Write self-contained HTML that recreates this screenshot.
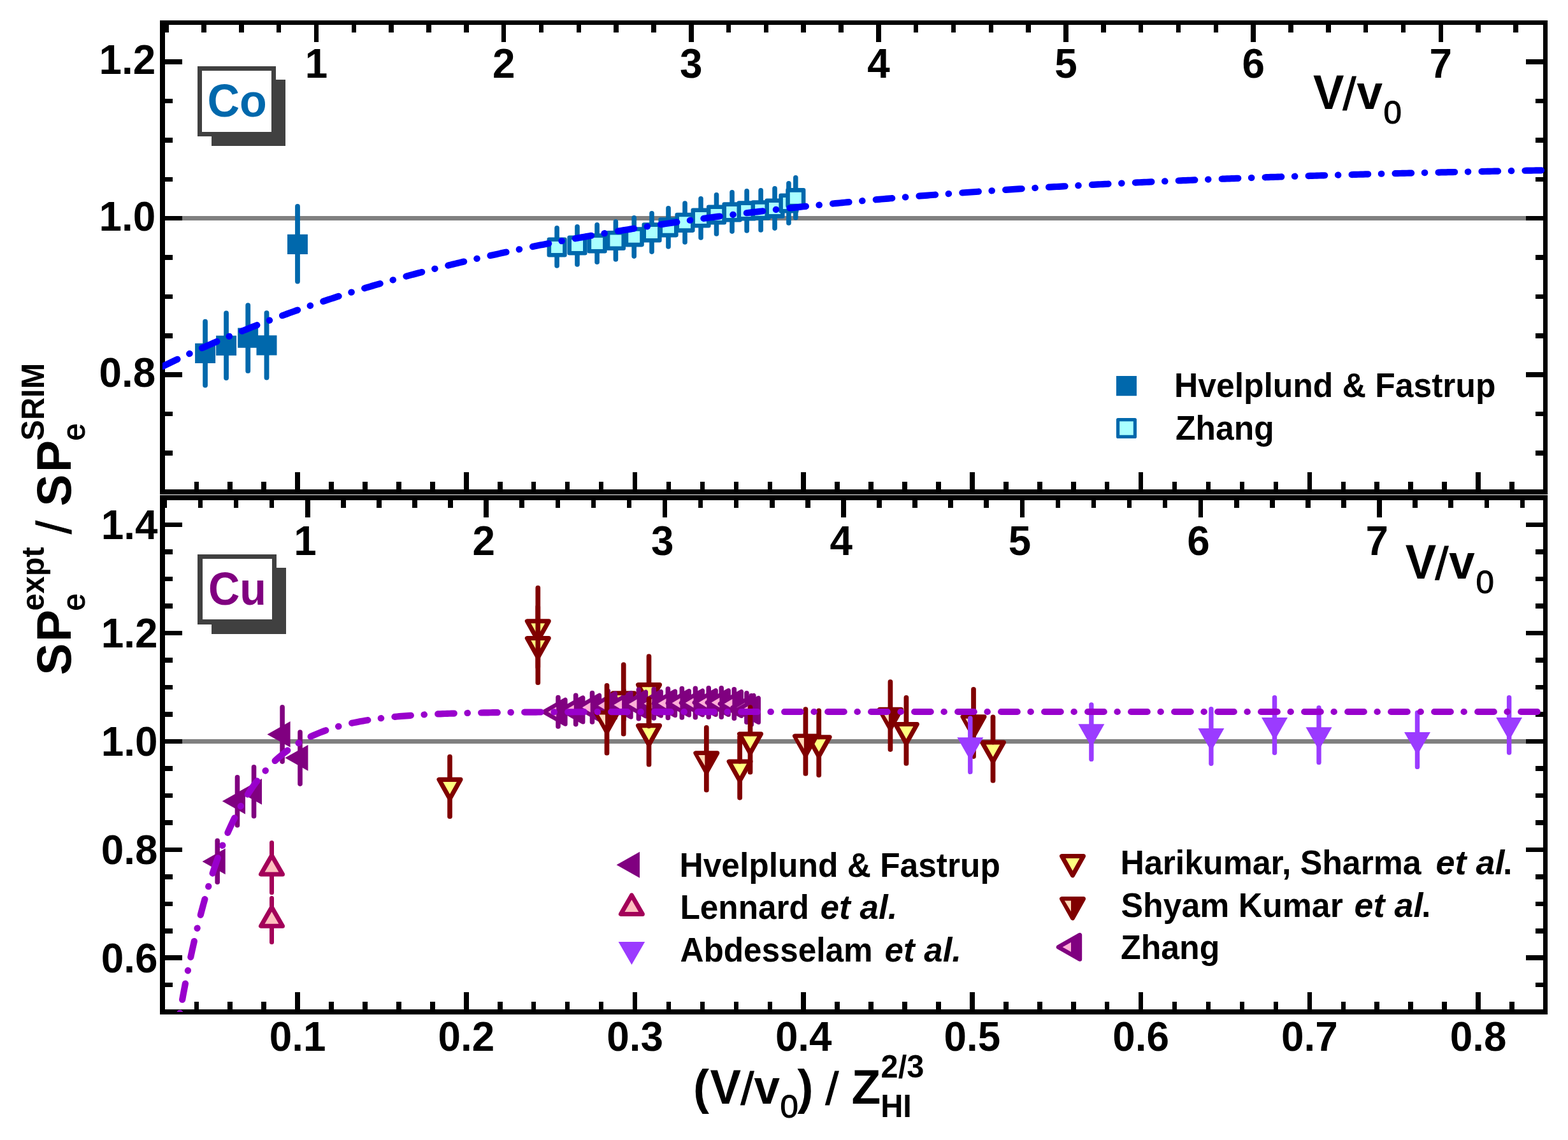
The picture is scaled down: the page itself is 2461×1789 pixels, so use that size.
<!DOCTYPE html>
<html lang="en"><head><meta charset="utf-8"><title>Stopping power ratio: Co and Cu</title>
<style>html,body{margin:0;padding:0;background:#fff;}svg{display:block;}</style></head>
<body>
<svg xmlns="http://www.w3.org/2000/svg" width="2461" height="1789" viewBox="0 0 2461 1789" font-family='"Liberation Sans", Arial, Helvetica, sans-serif'>
<defs>
<clipPath id="cpt"><rect x="255" y="35.5" width="2170" height="736.5"/></clipPath>
<clipPath id="cpb"><rect x="255" y="781" width="2170" height="807"/></clipPath>
</defs>
<rect x="0" y="0" width="2461" height="1789" fill="#ffffff"/>
<g shape-rendering="crispEdges">
<rect x="251.00" y="32.00" width="2178.00" height="6.80" fill="#000" />
<rect x="251.00" y="768.00" width="2178.00" height="8.00" fill="#000" />
<rect x="251.00" y="32.00" width="8.00" height="744.00" fill="#000" />
<rect x="2422.00" y="32.00" width="7.00" height="744.00" fill="#000" />
<rect x="251.00" y="777.00" width="2178.00" height="8.00" fill="#000" />
<rect x="251.00" y="1584.00" width="2178.00" height="7.50" fill="#000" />
<rect x="251.00" y="777.00" width="8.00" height="814.50" fill="#000" />
<rect x="2422.00" y="777.00" width="7.00" height="814.50" fill="#000" />
</g>
<g shape-rendering="crispEdges">
<rect x="259.00" y="339.40" width="2163.00" height="6.50" fill="#808080" />
<rect x="259.00" y="1160.30" width="2163.00" height="6.50" fill="#808080" />
</g>
<g shape-rendering="crispEdges">
<rect x="257.46" y="37.80" width="7.50" height="13.20" fill="#000" />
<rect x="316.29" y="37.80" width="7.50" height="13.20" fill="#000" />
<rect x="375.11" y="37.80" width="7.50" height="13.20" fill="#000" />
<rect x="433.94" y="37.80" width="7.50" height="13.20" fill="#000" />
<rect x="492.76" y="37.80" width="7.50" height="27.70" fill="#000" />
<rect x="551.59" y="37.80" width="7.50" height="13.20" fill="#000" />
<rect x="610.41" y="37.80" width="7.50" height="13.20" fill="#000" />
<rect x="669.24" y="37.80" width="7.50" height="13.20" fill="#000" />
<rect x="728.06" y="37.80" width="7.50" height="13.20" fill="#000" />
<rect x="786.88" y="37.80" width="7.50" height="27.70" fill="#000" />
<rect x="845.71" y="37.80" width="7.50" height="13.20" fill="#000" />
<rect x="904.53" y="37.80" width="7.50" height="13.20" fill="#000" />
<rect x="963.36" y="37.80" width="7.50" height="13.20" fill="#000" />
<rect x="1022.18" y="37.80" width="7.50" height="13.20" fill="#000" />
<rect x="1081.01" y="37.80" width="7.50" height="27.70" fill="#000" />
<rect x="1139.83" y="37.80" width="7.50" height="13.20" fill="#000" />
<rect x="1198.66" y="37.80" width="7.50" height="13.20" fill="#000" />
<rect x="1257.48" y="37.80" width="7.50" height="13.20" fill="#000" />
<rect x="1316.30" y="37.80" width="7.50" height="13.20" fill="#000" />
<rect x="1375.13" y="37.80" width="7.50" height="27.70" fill="#000" />
<rect x="1433.95" y="37.80" width="7.50" height="13.20" fill="#000" />
<rect x="1492.78" y="37.80" width="7.50" height="13.20" fill="#000" />
<rect x="1551.60" y="37.80" width="7.50" height="13.20" fill="#000" />
<rect x="1610.43" y="37.80" width="7.50" height="13.20" fill="#000" />
<rect x="1669.25" y="37.80" width="7.50" height="27.70" fill="#000" />
<rect x="1728.08" y="37.80" width="7.50" height="13.20" fill="#000" />
<rect x="1786.90" y="37.80" width="7.50" height="13.20" fill="#000" />
<rect x="1845.72" y="37.80" width="7.50" height="13.20" fill="#000" />
<rect x="1904.55" y="37.80" width="7.50" height="13.20" fill="#000" />
<rect x="1963.37" y="37.80" width="7.50" height="27.70" fill="#000" />
<rect x="2022.20" y="37.80" width="7.50" height="13.20" fill="#000" />
<rect x="2081.02" y="37.80" width="7.50" height="13.20" fill="#000" />
<rect x="2139.85" y="37.80" width="7.50" height="13.20" fill="#000" />
<rect x="2198.67" y="37.80" width="7.50" height="13.20" fill="#000" />
<rect x="2257.50" y="37.80" width="7.50" height="27.70" fill="#000" />
<rect x="2316.32" y="37.80" width="7.50" height="13.20" fill="#000" />
<rect x="2375.14" y="37.80" width="7.50" height="13.20" fill="#000" />
<rect x="304.52" y="755.80" width="7.50" height="13.20" fill="#000" />
<rect x="304.52" y="1571.80" width="7.50" height="13.20" fill="#000" />
<rect x="357.47" y="755.80" width="7.50" height="13.20" fill="#000" />
<rect x="357.47" y="1571.80" width="7.50" height="13.20" fill="#000" />
<rect x="410.41" y="755.80" width="7.50" height="13.20" fill="#000" />
<rect x="410.41" y="1571.80" width="7.50" height="13.20" fill="#000" />
<rect x="463.35" y="741.00" width="7.50" height="28.00" fill="#000" />
<rect x="463.35" y="1557.00" width="7.50" height="28.00" fill="#000" />
<rect x="516.29" y="755.80" width="7.50" height="13.20" fill="#000" />
<rect x="516.29" y="1571.80" width="7.50" height="13.20" fill="#000" />
<rect x="569.23" y="755.80" width="7.50" height="13.20" fill="#000" />
<rect x="569.23" y="1571.80" width="7.50" height="13.20" fill="#000" />
<rect x="622.18" y="755.80" width="7.50" height="13.20" fill="#000" />
<rect x="622.18" y="1571.80" width="7.50" height="13.20" fill="#000" />
<rect x="675.12" y="755.80" width="7.50" height="13.20" fill="#000" />
<rect x="675.12" y="1571.80" width="7.50" height="13.20" fill="#000" />
<rect x="728.06" y="741.00" width="7.50" height="28.00" fill="#000" />
<rect x="728.06" y="1557.00" width="7.50" height="28.00" fill="#000" />
<rect x="781.00" y="755.80" width="7.50" height="13.20" fill="#000" />
<rect x="781.00" y="1571.80" width="7.50" height="13.20" fill="#000" />
<rect x="833.94" y="755.80" width="7.50" height="13.20" fill="#000" />
<rect x="833.94" y="1571.80" width="7.50" height="13.20" fill="#000" />
<rect x="886.89" y="755.80" width="7.50" height="13.20" fill="#000" />
<rect x="886.89" y="1571.80" width="7.50" height="13.20" fill="#000" />
<rect x="939.83" y="755.80" width="7.50" height="13.20" fill="#000" />
<rect x="939.83" y="1571.80" width="7.50" height="13.20" fill="#000" />
<rect x="992.77" y="741.00" width="7.50" height="28.00" fill="#000" />
<rect x="992.77" y="1557.00" width="7.50" height="28.00" fill="#000" />
<rect x="1045.71" y="755.80" width="7.50" height="13.20" fill="#000" />
<rect x="1045.71" y="1571.80" width="7.50" height="13.20" fill="#000" />
<rect x="1098.65" y="755.80" width="7.50" height="13.20" fill="#000" />
<rect x="1098.65" y="1571.80" width="7.50" height="13.20" fill="#000" />
<rect x="1151.60" y="755.80" width="7.50" height="13.20" fill="#000" />
<rect x="1151.60" y="1571.80" width="7.50" height="13.20" fill="#000" />
<rect x="1204.54" y="755.80" width="7.50" height="13.20" fill="#000" />
<rect x="1204.54" y="1571.80" width="7.50" height="13.20" fill="#000" />
<rect x="1257.48" y="741.00" width="7.50" height="28.00" fill="#000" />
<rect x="1257.48" y="1557.00" width="7.50" height="28.00" fill="#000" />
<rect x="1310.42" y="755.80" width="7.50" height="13.20" fill="#000" />
<rect x="1310.42" y="1571.80" width="7.50" height="13.20" fill="#000" />
<rect x="1363.36" y="755.80" width="7.50" height="13.20" fill="#000" />
<rect x="1363.36" y="1571.80" width="7.50" height="13.20" fill="#000" />
<rect x="1416.31" y="755.80" width="7.50" height="13.20" fill="#000" />
<rect x="1416.31" y="1571.80" width="7.50" height="13.20" fill="#000" />
<rect x="1469.25" y="755.80" width="7.50" height="13.20" fill="#000" />
<rect x="1469.25" y="1571.80" width="7.50" height="13.20" fill="#000" />
<rect x="1522.19" y="741.00" width="7.50" height="28.00" fill="#000" />
<rect x="1522.19" y="1557.00" width="7.50" height="28.00" fill="#000" />
<rect x="1575.13" y="755.80" width="7.50" height="13.20" fill="#000" />
<rect x="1575.13" y="1571.80" width="7.50" height="13.20" fill="#000" />
<rect x="1628.07" y="755.80" width="7.50" height="13.20" fill="#000" />
<rect x="1628.07" y="1571.80" width="7.50" height="13.20" fill="#000" />
<rect x="1681.02" y="755.80" width="7.50" height="13.20" fill="#000" />
<rect x="1681.02" y="1571.80" width="7.50" height="13.20" fill="#000" />
<rect x="1733.96" y="755.80" width="7.50" height="13.20" fill="#000" />
<rect x="1733.96" y="1571.80" width="7.50" height="13.20" fill="#000" />
<rect x="1786.90" y="741.00" width="7.50" height="28.00" fill="#000" />
<rect x="1786.90" y="1557.00" width="7.50" height="28.00" fill="#000" />
<rect x="1839.84" y="755.80" width="7.50" height="13.20" fill="#000" />
<rect x="1839.84" y="1571.80" width="7.50" height="13.20" fill="#000" />
<rect x="1892.78" y="755.80" width="7.50" height="13.20" fill="#000" />
<rect x="1892.78" y="1571.80" width="7.50" height="13.20" fill="#000" />
<rect x="1945.73" y="755.80" width="7.50" height="13.20" fill="#000" />
<rect x="1945.73" y="1571.80" width="7.50" height="13.20" fill="#000" />
<rect x="1998.67" y="755.80" width="7.50" height="13.20" fill="#000" />
<rect x="1998.67" y="1571.80" width="7.50" height="13.20" fill="#000" />
<rect x="2051.61" y="741.00" width="7.50" height="28.00" fill="#000" />
<rect x="2051.61" y="1557.00" width="7.50" height="28.00" fill="#000" />
<rect x="2104.55" y="755.80" width="7.50" height="13.20" fill="#000" />
<rect x="2104.55" y="1571.80" width="7.50" height="13.20" fill="#000" />
<rect x="2157.49" y="755.80" width="7.50" height="13.20" fill="#000" />
<rect x="2157.49" y="1571.80" width="7.50" height="13.20" fill="#000" />
<rect x="2210.44" y="755.80" width="7.50" height="13.20" fill="#000" />
<rect x="2210.44" y="1571.80" width="7.50" height="13.20" fill="#000" />
<rect x="2263.38" y="755.80" width="7.50" height="13.20" fill="#000" />
<rect x="2263.38" y="1571.80" width="7.50" height="13.20" fill="#000" />
<rect x="2316.32" y="741.00" width="7.50" height="28.00" fill="#000" />
<rect x="2316.32" y="1557.00" width="7.50" height="28.00" fill="#000" />
<rect x="2369.26" y="755.80" width="7.50" height="13.20" fill="#000" />
<rect x="2369.26" y="1571.80" width="7.50" height="13.20" fill="#000" />
<rect x="254.72" y="784.00" width="7.50" height="13.20" fill="#000" />
<rect x="310.79" y="784.00" width="7.50" height="13.20" fill="#000" />
<rect x="366.87" y="784.00" width="7.50" height="13.20" fill="#000" />
<rect x="422.95" y="784.00" width="7.50" height="13.20" fill="#000" />
<rect x="479.02" y="784.00" width="7.50" height="28.00" fill="#000" />
<rect x="535.10" y="784.00" width="7.50" height="13.20" fill="#000" />
<rect x="591.18" y="784.00" width="7.50" height="13.20" fill="#000" />
<rect x="647.25" y="784.00" width="7.50" height="13.20" fill="#000" />
<rect x="703.33" y="784.00" width="7.50" height="13.20" fill="#000" />
<rect x="759.41" y="784.00" width="7.50" height="28.00" fill="#000" />
<rect x="815.48" y="784.00" width="7.50" height="13.20" fill="#000" />
<rect x="871.56" y="784.00" width="7.50" height="13.20" fill="#000" />
<rect x="927.64" y="784.00" width="7.50" height="13.20" fill="#000" />
<rect x="983.71" y="784.00" width="7.50" height="13.20" fill="#000" />
<rect x="1039.79" y="784.00" width="7.50" height="28.00" fill="#000" />
<rect x="1095.87" y="784.00" width="7.50" height="13.20" fill="#000" />
<rect x="1151.94" y="784.00" width="7.50" height="13.20" fill="#000" />
<rect x="1208.02" y="784.00" width="7.50" height="13.20" fill="#000" />
<rect x="1264.10" y="784.00" width="7.50" height="13.20" fill="#000" />
<rect x="1320.17" y="784.00" width="7.50" height="28.00" fill="#000" />
<rect x="1376.25" y="784.00" width="7.50" height="13.20" fill="#000" />
<rect x="1432.33" y="784.00" width="7.50" height="13.20" fill="#000" />
<rect x="1488.40" y="784.00" width="7.50" height="13.20" fill="#000" />
<rect x="1544.48" y="784.00" width="7.50" height="13.20" fill="#000" />
<rect x="1600.56" y="784.00" width="7.50" height="28.00" fill="#000" />
<rect x="1656.63" y="784.00" width="7.50" height="13.20" fill="#000" />
<rect x="1712.71" y="784.00" width="7.50" height="13.20" fill="#000" />
<rect x="1768.79" y="784.00" width="7.50" height="13.20" fill="#000" />
<rect x="1824.86" y="784.00" width="7.50" height="13.20" fill="#000" />
<rect x="1880.94" y="784.00" width="7.50" height="28.00" fill="#000" />
<rect x="1937.02" y="784.00" width="7.50" height="13.20" fill="#000" />
<rect x="1993.09" y="784.00" width="7.50" height="13.20" fill="#000" />
<rect x="2049.17" y="784.00" width="7.50" height="13.20" fill="#000" />
<rect x="2105.25" y="784.00" width="7.50" height="13.20" fill="#000" />
<rect x="2161.32" y="784.00" width="7.50" height="28.00" fill="#000" />
<rect x="2217.40" y="784.00" width="7.50" height="13.20" fill="#000" />
<rect x="2273.48" y="784.00" width="7.50" height="13.20" fill="#000" />
<rect x="2329.55" y="784.00" width="7.50" height="13.20" fill="#000" />
<rect x="2385.63" y="784.00" width="7.50" height="13.20" fill="#000" />
<rect x="258.00" y="707.20" width="13.20" height="7.50" fill="#000" />
<rect x="2409.80" y="707.20" width="13.20" height="7.50" fill="#000" />
<rect x="258.00" y="645.83" width="13.20" height="7.50" fill="#000" />
<rect x="2409.80" y="645.83" width="13.20" height="7.50" fill="#000" />
<rect x="258.00" y="584.45" width="28.00" height="7.50" fill="#000" />
<rect x="2395.00" y="584.45" width="28.00" height="7.50" fill="#000" />
<rect x="258.00" y="523.07" width="13.20" height="7.50" fill="#000" />
<rect x="2409.80" y="523.07" width="13.20" height="7.50" fill="#000" />
<rect x="258.00" y="461.70" width="13.20" height="7.50" fill="#000" />
<rect x="2409.80" y="461.70" width="13.20" height="7.50" fill="#000" />
<rect x="258.00" y="400.32" width="13.20" height="7.50" fill="#000" />
<rect x="2409.80" y="400.32" width="13.20" height="7.50" fill="#000" />
<rect x="258.00" y="338.95" width="28.00" height="7.50" fill="#000" />
<rect x="2395.00" y="338.95" width="28.00" height="7.50" fill="#000" />
<rect x="258.00" y="277.57" width="13.20" height="7.50" fill="#000" />
<rect x="2409.80" y="277.57" width="13.20" height="7.50" fill="#000" />
<rect x="258.00" y="216.20" width="13.20" height="7.50" fill="#000" />
<rect x="2409.80" y="216.20" width="13.20" height="7.50" fill="#000" />
<rect x="258.00" y="154.82" width="13.20" height="7.50" fill="#000" />
<rect x="2409.80" y="154.82" width="13.20" height="7.50" fill="#000" />
<rect x="258.00" y="93.45" width="28.00" height="7.50" fill="#000" />
<rect x="2395.00" y="93.45" width="28.00" height="7.50" fill="#000" />
<rect x="258.00" y="1541.97" width="13.20" height="7.50" fill="#000" />
<rect x="2409.80" y="1541.97" width="13.20" height="7.50" fill="#000" />
<rect x="258.00" y="1499.49" width="28.00" height="7.50" fill="#000" />
<rect x="2395.00" y="1499.49" width="28.00" height="7.50" fill="#000" />
<rect x="258.00" y="1457.01" width="13.20" height="7.50" fill="#000" />
<rect x="2409.80" y="1457.01" width="13.20" height="7.50" fill="#000" />
<rect x="258.00" y="1414.53" width="13.20" height="7.50" fill="#000" />
<rect x="2409.80" y="1414.53" width="13.20" height="7.50" fill="#000" />
<rect x="258.00" y="1372.05" width="13.20" height="7.50" fill="#000" />
<rect x="2409.80" y="1372.05" width="13.20" height="7.50" fill="#000" />
<rect x="258.00" y="1329.57" width="28.00" height="7.50" fill="#000" />
<rect x="2395.00" y="1329.57" width="28.00" height="7.50" fill="#000" />
<rect x="258.00" y="1287.09" width="13.20" height="7.50" fill="#000" />
<rect x="2409.80" y="1287.09" width="13.20" height="7.50" fill="#000" />
<rect x="258.00" y="1244.61" width="13.20" height="7.50" fill="#000" />
<rect x="2409.80" y="1244.61" width="13.20" height="7.50" fill="#000" />
<rect x="258.00" y="1202.13" width="13.20" height="7.50" fill="#000" />
<rect x="2409.80" y="1202.13" width="13.20" height="7.50" fill="#000" />
<rect x="258.00" y="1159.65" width="28.00" height="7.50" fill="#000" />
<rect x="2395.00" y="1159.65" width="28.00" height="7.50" fill="#000" />
<rect x="258.00" y="1117.17" width="13.20" height="7.50" fill="#000" />
<rect x="2409.80" y="1117.17" width="13.20" height="7.50" fill="#000" />
<rect x="258.00" y="1074.69" width="13.20" height="7.50" fill="#000" />
<rect x="2409.80" y="1074.69" width="13.20" height="7.50" fill="#000" />
<rect x="258.00" y="1032.21" width="13.20" height="7.50" fill="#000" />
<rect x="2409.80" y="1032.21" width="13.20" height="7.50" fill="#000" />
<rect x="258.00" y="989.73" width="28.00" height="7.50" fill="#000" />
<rect x="2395.00" y="989.73" width="28.00" height="7.50" fill="#000" />
<rect x="258.00" y="947.25" width="13.20" height="7.50" fill="#000" />
<rect x="2409.80" y="947.25" width="13.20" height="7.50" fill="#000" />
<rect x="258.00" y="904.77" width="13.20" height="7.50" fill="#000" />
<rect x="2409.80" y="904.77" width="13.20" height="7.50" fill="#000" />
<rect x="258.00" y="862.29" width="13.20" height="7.50" fill="#000" />
<rect x="2409.80" y="862.29" width="13.20" height="7.50" fill="#000" />
<rect x="258.00" y="819.81" width="28.00" height="7.50" fill="#000" />
<rect x="2395.00" y="819.81" width="28.00" height="7.50" fill="#000" />
</g>
<text transform="translate(244.20,116.40) scale(1.0,1.022)" font-size="63.8" font-weight="bold" font-style="normal" text-anchor="end" fill="#000" >1.2</text>
<text transform="translate(244.20,361.90) scale(1.0,1.022)" font-size="63.8" font-weight="bold" font-style="normal" text-anchor="end" fill="#000" >1.0</text>
<text transform="translate(244.20,607.40) scale(1.0,1.022)" font-size="63.8" font-weight="bold" font-style="normal" text-anchor="end" fill="#000" >0.8</text>
<text transform="translate(247.40,846.36) scale(1.0,1.022)" font-size="63.8" font-weight="bold" font-style="normal" text-anchor="end" fill="#000" >1.4</text>
<text transform="translate(247.40,1016.28) scale(1.0,1.022)" font-size="63.8" font-weight="bold" font-style="normal" text-anchor="end" fill="#000" >1.2</text>
<text transform="translate(247.40,1186.20) scale(1.0,1.022)" font-size="63.8" font-weight="bold" font-style="normal" text-anchor="end" fill="#000" >1.0</text>
<text transform="translate(247.40,1356.12) scale(1.0,1.022)" font-size="63.8" font-weight="bold" font-style="normal" text-anchor="end" fill="#000" >0.8</text>
<text transform="translate(247.40,1526.04) scale(1.0,1.022)" font-size="63.8" font-weight="bold" font-style="normal" text-anchor="end" fill="#000" >0.6</text>
<text transform="translate(496.51,121.90) scale(1.0,1.022)" font-size="63.8" font-weight="bold" font-style="normal" text-anchor="middle" fill="#000" >1</text>
<text transform="translate(790.63,121.90) scale(1.0,1.022)" font-size="63.8" font-weight="bold" font-style="normal" text-anchor="middle" fill="#000" >2</text>
<text transform="translate(1084.76,121.90) scale(1.0,1.022)" font-size="63.8" font-weight="bold" font-style="normal" text-anchor="middle" fill="#000" >3</text>
<text transform="translate(1378.88,121.90) scale(1.0,1.022)" font-size="63.8" font-weight="bold" font-style="normal" text-anchor="middle" fill="#000" >4</text>
<text transform="translate(1673.00,121.90) scale(1.0,1.022)" font-size="63.8" font-weight="bold" font-style="normal" text-anchor="middle" fill="#000" >5</text>
<text transform="translate(1967.12,121.90) scale(1.0,1.022)" font-size="63.8" font-weight="bold" font-style="normal" text-anchor="middle" fill="#000" >6</text>
<text transform="translate(2261.25,121.90) scale(1.0,1.022)" font-size="63.8" font-weight="bold" font-style="normal" text-anchor="middle" fill="#000" >7</text>
<text transform="translate(478.97,870.90) scale(1.0,1.022)" font-size="63.8" font-weight="bold" font-style="normal" text-anchor="middle" fill="#000" >1</text>
<text transform="translate(759.36,870.90) scale(1.0,1.022)" font-size="63.8" font-weight="bold" font-style="normal" text-anchor="middle" fill="#000" >2</text>
<text transform="translate(1039.74,870.90) scale(1.0,1.022)" font-size="63.8" font-weight="bold" font-style="normal" text-anchor="middle" fill="#000" >3</text>
<text transform="translate(1320.12,870.90) scale(1.0,1.022)" font-size="63.8" font-weight="bold" font-style="normal" text-anchor="middle" fill="#000" >4</text>
<text transform="translate(1600.51,870.90) scale(1.0,1.022)" font-size="63.8" font-weight="bold" font-style="normal" text-anchor="middle" fill="#000" >5</text>
<text transform="translate(1880.89,870.90) scale(1.0,1.022)" font-size="63.8" font-weight="bold" font-style="normal" text-anchor="middle" fill="#000" >6</text>
<text transform="translate(2161.27,870.90) scale(1.0,1.022)" font-size="63.8" font-weight="bold" font-style="normal" text-anchor="middle" fill="#000" >7</text>
<text transform="translate(467.10,1649.00) scale(1.0,1.022)" font-size="63.8" font-weight="bold" font-style="normal" text-anchor="middle" fill="#000" >0.1</text>
<text transform="translate(731.81,1649.00) scale(1.0,1.022)" font-size="63.8" font-weight="bold" font-style="normal" text-anchor="middle" fill="#000" >0.2</text>
<text transform="translate(996.52,1649.00) scale(1.0,1.022)" font-size="63.8" font-weight="bold" font-style="normal" text-anchor="middle" fill="#000" >0.3</text>
<text transform="translate(1261.23,1649.00) scale(1.0,1.022)" font-size="63.8" font-weight="bold" font-style="normal" text-anchor="middle" fill="#000" >0.4</text>
<text transform="translate(1525.94,1649.00) scale(1.0,1.022)" font-size="63.8" font-weight="bold" font-style="normal" text-anchor="middle" fill="#000" >0.5</text>
<text transform="translate(1790.65,1649.00) scale(1.0,1.022)" font-size="63.8" font-weight="bold" font-style="normal" text-anchor="middle" fill="#000" >0.6</text>
<text transform="translate(2055.36,1649.00) scale(1.0,1.022)" font-size="63.8" font-weight="bold" font-style="normal" text-anchor="middle" fill="#000" >0.7</text>
<text transform="translate(2320.07,1649.00) scale(1.0,1.022)" font-size="63.8" font-weight="bold" font-style="normal" text-anchor="middle" fill="#000" >0.8</text>
<text transform="translate(2061.00,171.00) scale(0.97,1.022)" font-size="75.0" font-weight="bold" font-style="normal" text-anchor="start" fill="#000" >V</text>
<text transform="translate(2107.60,171.80) scale(1.0,0.955)" font-size="75.0" font-weight="normal" font-style="normal" text-anchor="start" fill="#000" stroke="#000" stroke-width="1.1">/</text>
<text transform="translate(2129.50,171.00) scale(0.97,1.022)" font-size="75.0" font-weight="bold" font-style="normal" text-anchor="start" fill="#000" >v</text>
<text transform="translate(2171.60,193.60) scale(1.05,1.022)" font-size="48.7" font-weight="normal" font-style="normal" text-anchor="start" fill="#000" stroke="#000" stroke-width="1.1">0</text>
<text transform="translate(2205.80,907.90) scale(0.97,1.022)" font-size="75.0" font-weight="bold" font-style="normal" text-anchor="start" fill="#000" >V</text>
<text transform="translate(2252.40,908.70) scale(1.0,0.955)" font-size="75.0" font-weight="normal" font-style="normal" text-anchor="start" fill="#000" stroke="#000" stroke-width="1.1">/</text>
<text transform="translate(2274.30,907.90) scale(0.97,1.022)" font-size="75.0" font-weight="bold" font-style="normal" text-anchor="start" fill="#000" >v</text>
<text transform="translate(2316.40,930.50) scale(1.05,1.022)" font-size="48.7" font-weight="normal" font-style="normal" text-anchor="start" fill="#000" stroke="#000" stroke-width="1.1">0</text>
<text transform="translate(1088.00,1732.20) scale(1.0,1.022)" font-size="75.0" font-weight="bold" font-style="normal" text-anchor="start" fill="#000" >(</text>
<text transform="translate(1114.60,1732.20) scale(0.97,1.022)" font-size="75.0" font-weight="bold" font-style="normal" text-anchor="start" fill="#000" >V</text>
<text transform="translate(1162.50,1733.00) scale(1.0,0.955)" font-size="75.0" font-weight="normal" font-style="normal" text-anchor="start" fill="#000" stroke="#000" stroke-width="1.1">/</text>
<text transform="translate(1183.60,1732.20) scale(0.97,1.022)" font-size="75.0" font-weight="bold" font-style="normal" text-anchor="start" fill="#000" >v</text>
<text transform="translate(1224.60,1753.80) scale(1.05,1.022)" font-size="48.7" font-weight="normal" font-style="normal" text-anchor="start" fill="#000" stroke="#000" stroke-width="1.1">0</text>
<text transform="translate(1251.50,1732.20) scale(1.0,1.022)" font-size="75.0" font-weight="bold" font-style="normal" text-anchor="start" fill="#000" >)</text>
<text transform="translate(1295.50,1733.00) scale(1.0,0.955)" font-size="75.0" font-weight="normal" font-style="normal" text-anchor="start" fill="#000" stroke="#000" stroke-width="1.1">/</text>
<text transform="translate(1336.60,1732.20) scale(1.0,1.022)" font-size="75.0" font-weight="bold" font-style="normal" text-anchor="start" fill="#000" >Z</text>
<text transform="translate(1382.60,1691.00) scale(1.0,1.022)" font-size="48.7" font-weight="bold" font-style="normal" text-anchor="start" fill="#000" >2/3</text>
<text transform="translate(1382.20,1753.20) scale(1.0,1.022)" font-size="48.7" font-weight="bold" font-style="normal" text-anchor="start" fill="#000" >HI</text>
<g transform="translate(111,0) rotate(-90)">
<text transform="translate(-1059.50,0.00) scale(1,1.022)" font-size="75.0" font-weight="bold" >S</text>
<text transform="translate(-1007.00,0.00) scale(1,1.022)" font-size="75.0" font-weight="bold" >P</text>
<text transform="translate(-958.50,21.80) scale(1,1.022)" font-size="48.7" font-weight="normal" stroke="#000" stroke-width="1.1">e</text>
<text transform="translate(-958.50,-41.60) scale(1,1.022)" font-size="48.7" font-weight="bold" >expt</text>
<text transform="translate(-838.00,0.00) scale(1,1.022)" font-size="75.0" font-weight="normal" stroke="#000" stroke-width="1.1">/</text>
<text transform="translate(-794.50,0.00) scale(1,1.022)" font-size="75.0" font-weight="bold" >S</text>
<text transform="translate(-741.00,0.00) scale(1,1.022)" font-size="75.0" font-weight="bold" >P</text>
<text transform="translate(-691.50,21.80) scale(1,1.022)" font-size="48.7" font-weight="normal" stroke="#000" stroke-width="1.1">e</text>
<text transform="translate(-691.50,-41.60) scale(1,1.022)" font-size="48.7" font-weight="bold" >SRIM</text>
</g>
<g shape-rendering="crispEdges">
<rect x="331.50" y="125.00" width="116.50" height="104.00" fill="#404040" />
<rect x="310.00" y="104.00" width="123.00" height="110.00" fill="#404040" />
<rect x="316.80" y="110.80" width="109.40" height="96.40" fill="#ffffff" />
</g>
<text transform="translate(325.50,183.00) scale(1.0,1.022)" font-size="70.0" font-weight="bold" font-style="normal" text-anchor="start" fill="#0068ac" >Co</text>
<g shape-rendering="crispEdges">
<rect x="331.50" y="891.30" width="117.50" height="103.70" fill="#404040" />
<rect x="310.00" y="870.30" width="124.00" height="109.70" fill="#404040" />
<rect x="317.80" y="877.00" width="109.50" height="95.00" fill="#ffffff" />
</g>
<text transform="translate(327.00,949.20) scale(0.975,1.022)" font-size="70.0" font-weight="bold" font-style="normal" text-anchor="start" fill="#800080" >Cu</text>
<g clip-path="url(#cpt)">
<line x1="322.10" y1="504.70" x2="322.10" y2="604.60" stroke="#0068ac" stroke-width="7.8" stroke-linecap="round"/>
<rect x="306.10" y="538.80" width="32.00" height="31.20" fill="#0068ac" />
<line x1="355.10" y1="491.50" x2="355.10" y2="593.00" stroke="#0068ac" stroke-width="7.8" stroke-linecap="round"/>
<rect x="339.10" y="526.70" width="32.00" height="31.20" fill="#0068ac" />
<line x1="389.20" y1="479.10" x2="389.20" y2="581.90" stroke="#0068ac" stroke-width="7.8" stroke-linecap="round"/>
<rect x="373.20" y="514.60" width="32.00" height="31.20" fill="#0068ac" />
<line x1="418.50" y1="491.10" x2="418.50" y2="592.60" stroke="#0068ac" stroke-width="7.8" stroke-linecap="round"/>
<rect x="402.50" y="526.30" width="32.00" height="31.20" fill="#0068ac" />
<line x1="467.00" y1="323.90" x2="467.00" y2="441.60" stroke="#0068ac" stroke-width="7.8" stroke-linecap="round"/>
<rect x="451.00" y="367.80" width="32.00" height="31.20" fill="#0068ac" />
<line x1="874.10" y1="357.80" x2="874.10" y2="417.00" stroke="#0068ac" stroke-width="7.6" stroke-linecap="round"/>
<rect x="861.80" y="375.70" width="24.6" height="24.6" fill="#aaffff" stroke="#0068ac" stroke-width="6.6" stroke-linejoin="round"/>
<line x1="906.00" y1="355.90" x2="906.00" y2="415.00" stroke="#0068ac" stroke-width="7.6" stroke-linecap="round"/>
<rect x="893.70" y="372.70" width="24.6" height="24.6" fill="#aaffff" stroke="#0068ac" stroke-width="6.6" stroke-linejoin="round"/>
<line x1="937.10" y1="352.70" x2="937.10" y2="411.20" stroke="#0068ac" stroke-width="7.6" stroke-linecap="round"/>
<rect x="924.80" y="369.60" width="24.6" height="24.6" fill="#aaffff" stroke="#0068ac" stroke-width="6.6" stroke-linejoin="round"/>
<line x1="966.40" y1="347.80" x2="966.40" y2="406.90" stroke="#0068ac" stroke-width="7.6" stroke-linecap="round"/>
<rect x="954.10" y="365.20" width="24.6" height="24.6" fill="#aaffff" stroke="#0068ac" stroke-width="6.6" stroke-linejoin="round"/>
<line x1="995.20" y1="341.80" x2="995.20" y2="402.10" stroke="#0068ac" stroke-width="7.6" stroke-linecap="round"/>
<rect x="982.90" y="359.50" width="24.6" height="24.6" fill="#aaffff" stroke="#0068ac" stroke-width="6.6" stroke-linejoin="round"/>
<line x1="1023.00" y1="334.90" x2="1023.00" y2="395.10" stroke="#0068ac" stroke-width="7.6" stroke-linecap="round"/>
<rect x="1010.70" y="352.60" width="24.6" height="24.6" fill="#aaffff" stroke="#0068ac" stroke-width="6.6" stroke-linejoin="round"/>
<line x1="1049.00" y1="326.90" x2="1049.00" y2="386.90" stroke="#0068ac" stroke-width="7.6" stroke-linecap="round"/>
<rect x="1036.70" y="344.50" width="24.6" height="24.6" fill="#aaffff" stroke="#0068ac" stroke-width="6.6" stroke-linejoin="round"/>
<line x1="1075.00" y1="319.00" x2="1075.00" y2="379.90" stroke="#0068ac" stroke-width="7.6" stroke-linecap="round"/>
<rect x="1062.70" y="337.00" width="24.6" height="24.6" fill="#aaffff" stroke="#0068ac" stroke-width="6.6" stroke-linejoin="round"/>
<line x1="1100.00" y1="311.70" x2="1100.00" y2="373.00" stroke="#0068ac" stroke-width="7.6" stroke-linecap="round"/>
<rect x="1087.70" y="329.70" width="24.6" height="24.6" fill="#aaffff" stroke="#0068ac" stroke-width="6.6" stroke-linejoin="round"/>
<line x1="1124.50" y1="305.80" x2="1124.50" y2="367.00" stroke="#0068ac" stroke-width="7.6" stroke-linecap="round"/>
<rect x="1112.20" y="324.70" width="24.6" height="24.6" fill="#aaffff" stroke="#0068ac" stroke-width="6.6" stroke-linejoin="round"/>
<line x1="1149.00" y1="301.70" x2="1149.00" y2="363.10" stroke="#0068ac" stroke-width="7.6" stroke-linecap="round"/>
<rect x="1136.70" y="320.60" width="24.6" height="24.6" fill="#aaffff" stroke="#0068ac" stroke-width="6.6" stroke-linejoin="round"/>
<line x1="1172.10" y1="299.90" x2="1172.10" y2="361.90" stroke="#0068ac" stroke-width="7.6" stroke-linecap="round"/>
<rect x="1159.80" y="318.60" width="24.6" height="24.6" fill="#aaffff" stroke="#0068ac" stroke-width="6.6" stroke-linejoin="round"/>
<line x1="1194.10" y1="298.90" x2="1194.10" y2="361.00" stroke="#0068ac" stroke-width="7.6" stroke-linecap="round"/>
<rect x="1181.80" y="317.50" width="24.6" height="24.6" fill="#aaffff" stroke="#0068ac" stroke-width="6.6" stroke-linejoin="round"/>
<line x1="1216.00" y1="295.80" x2="1216.00" y2="358.10" stroke="#0068ac" stroke-width="7.6" stroke-linecap="round"/>
<rect x="1203.70" y="314.80" width="24.6" height="24.6" fill="#aaffff" stroke="#0068ac" stroke-width="6.6" stroke-linejoin="round"/>
<line x1="1237.90" y1="287.70" x2="1237.90" y2="350.00" stroke="#0068ac" stroke-width="7.6" stroke-linecap="round"/>
<rect x="1225.60" y="306.70" width="24.6" height="24.6" fill="#aaffff" stroke="#0068ac" stroke-width="6.6" stroke-linejoin="round"/>
<line x1="1248.80" y1="278.70" x2="1248.80" y2="341.80" stroke="#0068ac" stroke-width="7.6" stroke-linecap="round"/>
<rect x="1236.50" y="298.40" width="24.6" height="24.6" fill="#aaffff" stroke="#0068ac" stroke-width="6.6" stroke-linejoin="round"/>
</g>
<path d="M255.00,575.08 L258.62,573.32 L262.23,571.57 L265.85,569.82 L269.47,568.09 L273.08,566.37 L276.70,564.66 L280.32,562.95 L283.93,561.26 L287.55,559.57 L291.17,557.89 L294.78,556.23 L298.40,554.57 L302.02,552.92 L305.63,551.28 L309.25,549.65 L312.87,548.03 L316.48,546.42 L320.10,544.81 L323.72,543.22 L327.33,541.63 L330.95,540.06 L334.57,538.49 L338.18,536.93 L341.80,535.38 L345.42,533.83 L349.03,532.30 L352.65,530.77 L356.27,529.26 L359.88,527.75 L363.50,526.25 L367.12,524.76 L370.73,523.27 L374.35,521.80 L377.97,520.33 L381.58,518.87 L385.20,517.42 L388.82,515.97 L392.43,514.54 L396.05,513.11 L399.67,511.69 L403.28,510.28 L406.90,508.87 L410.52,507.48 L414.13,506.09 L417.75,504.71 L421.37,503.33 L424.98,501.97 L428.60,500.61 L432.22,499.26 L435.83,497.91 L439.45,496.58 L443.07,495.25 L446.68,493.93 L450.30,492.61 L453.92,491.31 L457.53,490.01 L461.15,488.71 L464.77,487.43 L468.38,486.15 L472.00,484.88 L475.62,483.62 L479.23,482.36 L482.85,481.11 L486.47,479.86 L490.08,478.63 L493.70,477.40 L497.32,476.17 L500.93,474.96 L504.55,473.75 L508.17,472.55 L511.78,471.35 L515.40,470.16 L519.02,468.98 L522.63,467.80 L526.25,466.63 L529.87,465.47 L533.48,464.31 L537.10,463.16 L540.72,462.01 L544.33,460.88 L547.95,459.74 L551.57,458.62 L555.18,457.50 L558.80,456.39 L562.42,455.28 L566.03,454.18 L569.65,453.08 L573.27,451.99 L576.88,450.91 L580.50,449.83 L584.12,448.76 L587.73,447.70 L591.35,446.64 L594.97,445.59 L598.58,444.54 L602.20,443.50 L605.82,442.46 L609.43,441.43 L613.05,440.41 L616.67,439.39 L620.28,438.37 L623.90,437.37 L627.52,436.36 L631.13,435.37 L634.75,434.38 L638.37,433.39 L641.98,432.41 L645.60,431.43 L649.22,430.47 L652.83,429.50 L656.45,428.54 L660.07,427.59 L663.68,426.64 L667.30,425.70 L670.92,424.76 L674.53,423.83 L678.15,422.90 L681.77,421.98 L685.38,421.06 L689.00,420.15 L692.62,419.24 L696.23,418.34 L699.85,417.44 L703.47,416.55 L707.08,415.66 L710.70,414.78 L714.32,413.90 L717.93,413.03 L721.55,412.16 L725.17,411.30 L728.78,410.44 L732.40,409.58 L736.02,408.74 L739.63,407.89 L743.25,407.05 L746.87,406.22 L750.48,405.39 L754.10,404.56 L757.72,403.74 L761.33,402.92 L764.95,402.11 L768.57,401.30 L772.18,400.50 L775.80,399.70 L779.42,398.90 L783.03,398.11 L786.65,397.33 L790.27,396.55 L793.88,395.77 L797.50,395.00 L801.12,394.23 L804.73,393.46 L808.35,392.70 L811.97,391.95 L815.58,391.20 L819.20,390.45 L822.82,389.71 L826.43,388.97 L830.05,388.23 L833.67,387.50 L837.28,386.77 L840.90,386.05 L844.52,385.33 L848.13,384.61 L851.75,383.90 L855.37,383.20 L858.98,382.49 L862.60,381.79 L866.22,381.10 L869.83,380.41 L873.45,379.72 L877.07,379.03 L880.68,378.35 L884.30,377.68 L887.92,377.00 L891.53,376.33 L895.15,375.67 L898.77,375.01 L902.38,374.35 L906.00,373.69 L909.62,373.04 L913.23,372.39 L916.85,371.75 L920.47,371.11 L924.08,370.47 L927.70,369.84 L931.32,369.21 L934.93,368.58 L938.55,367.96 L942.17,367.34 L945.78,366.72 L949.40,366.11 L953.02,365.50 L956.63,364.90 L960.25,364.29 L963.87,363.69 L967.48,363.10 L971.10,362.51 L974.72,361.92 L978.33,361.33 L981.95,360.75 L985.57,360.17 L989.18,359.59 L992.80,359.02 L996.42,358.45 L1000.03,357.88 L1003.65,357.32 L1007.27,356.76 L1010.88,356.20 L1014.50,355.64 L1018.12,355.09 L1021.73,354.54 L1025.35,354.00 L1028.97,353.46 L1032.58,352.92 L1036.20,352.38 L1039.82,351.85 L1043.43,351.32 L1047.05,350.79 L1050.67,350.26 L1054.28,349.74 L1057.90,349.22 L1061.52,348.71 L1065.13,348.19 L1068.75,347.68 L1072.37,347.17 L1075.98,346.67 L1079.60,346.17 L1083.22,345.67 L1086.83,345.17 L1090.45,344.68 L1094.07,344.19 L1097.68,343.70 L1101.30,343.21 L1104.92,342.73 L1108.53,342.25 L1112.15,341.77 L1115.77,341.30 L1119.38,340.82 L1123.00,340.35 L1126.62,339.89 L1130.23,339.42 L1133.85,338.96 L1137.47,338.50 L1141.08,338.04 L1144.70,337.59 L1148.32,337.14 L1151.93,336.69 L1155.55,336.24 L1159.17,335.80 L1162.78,335.35 L1166.40,334.91 L1170.02,334.48 L1173.63,334.04 L1177.25,333.61 L1180.87,333.18 L1184.48,332.75 L1188.10,332.33 L1191.72,331.90 L1195.33,331.48 L1198.95,331.06 L1202.57,330.65 L1206.18,330.23 L1209.80,329.82 L1213.42,329.41 L1217.03,329.01 L1220.65,328.60 L1224.27,328.20 L1227.88,327.80 L1231.50,327.40 L1235.12,327.01 L1238.73,326.61 L1242.35,326.22 L1245.97,325.83 L1249.58,325.44 L1253.20,325.06 L1256.82,324.68 L1260.43,324.30 L1264.05,323.92 L1267.67,323.54 L1271.28,323.17 L1274.90,322.79 L1278.52,322.42 L1282.13,322.05 L1285.75,321.69 L1289.37,321.32 L1292.98,320.96 L1296.60,320.60 L1300.22,320.24 L1303.83,319.89 L1307.45,319.53 L1311.07,319.18 L1314.68,318.83 L1318.30,318.48 L1321.92,318.13 L1325.53,317.79 L1329.15,317.45 L1332.77,317.11 L1336.38,316.77 L1340.00,316.43 L1343.62,316.09 L1347.23,315.76 L1350.85,315.43 L1354.47,315.10 L1358.08,314.77 L1361.70,314.44 L1365.32,314.12 L1368.93,313.80 L1372.55,313.48 L1376.17,313.16 L1379.78,312.84 L1383.40,312.53 L1387.02,312.21 L1390.63,311.90 L1394.25,311.59 L1397.87,311.28 L1401.48,310.97 L1405.10,310.67 L1408.72,310.36 L1412.33,310.06 L1415.95,309.76 L1419.57,309.46 L1423.18,309.17 L1426.80,308.87 L1430.42,308.58 L1434.03,308.29 L1437.65,308.00 L1441.27,307.71 L1444.88,307.42 L1448.50,307.13 L1452.12,306.85 L1455.73,306.57 L1459.35,306.29 L1462.97,306.01 L1466.58,305.73 L1470.20,305.45 L1473.82,305.18 L1477.43,304.90 L1481.05,304.63 L1484.67,304.36 L1488.28,304.09 L1491.90,303.83 L1495.52,303.56 L1499.13,303.30 L1502.75,303.03 L1506.37,302.77 L1509.98,302.51 L1513.60,302.25 L1517.22,302.00 L1520.83,301.74 L1524.45,301.49 L1528.07,301.23 L1531.68,300.98 L1535.30,300.73 L1538.92,300.48 L1542.53,300.24 L1546.15,299.99 L1549.77,299.75 L1553.38,299.50 L1557.00,299.26 L1560.62,299.02 L1564.23,298.78 L1567.85,298.54 L1571.47,298.31 L1575.08,298.07 L1578.70,297.84 L1582.32,297.60 L1585.93,297.37 L1589.55,297.14 L1593.17,296.91 L1596.78,296.68 L1600.40,296.46 L1604.02,296.23 L1607.63,296.01 L1611.25,295.79 L1614.87,295.56 L1618.48,295.34 L1622.10,295.13 L1625.72,294.91 L1629.33,294.69 L1632.95,294.48 L1636.57,294.26 L1640.18,294.05 L1643.80,293.84 L1647.42,293.63 L1651.03,293.42 L1654.65,293.21 L1658.27,293.00 L1661.88,292.79 L1665.50,292.59 L1669.12,292.39 L1672.73,292.18 L1676.35,291.98 L1679.97,291.78 L1683.58,291.58 L1687.20,291.38 L1690.82,291.19 L1694.43,290.99 L1698.05,290.79 L1701.67,290.60 L1705.28,290.41 L1708.90,290.22 L1712.52,290.02 L1716.13,289.84 L1719.75,289.65 L1723.37,289.46 L1726.98,289.27 L1730.60,289.09 L1734.22,288.90 L1737.83,288.72 L1741.45,288.54 L1745.07,288.35 L1748.68,288.17 L1752.30,287.99 L1755.92,287.82 L1759.53,287.64 L1763.15,287.46 L1766.77,287.29 L1770.38,287.11 L1774.00,286.94 L1777.62,286.77 L1781.23,286.59 L1784.85,286.42 L1788.47,286.25 L1792.08,286.08 L1795.70,285.92 L1799.32,285.75 L1802.93,285.58 L1806.55,285.42 L1810.17,285.25 L1813.78,285.09 L1817.40,284.93 L1821.02,284.77 L1824.63,284.61 L1828.25,284.45 L1831.87,284.29 L1835.48,284.13 L1839.10,283.97 L1842.72,283.81 L1846.33,283.66 L1849.95,283.50 L1853.57,283.35 L1857.18,283.20 L1860.80,283.05 L1864.42,282.89 L1868.03,282.74 L1871.65,282.59 L1875.27,282.45 L1878.88,282.30 L1882.50,282.15 L1886.12,282.00 L1889.73,281.86 L1893.35,281.71 L1896.97,281.57 L1900.58,281.43 L1904.20,281.29 L1907.82,281.14 L1911.43,281.00 L1915.05,280.86 L1918.67,280.72 L1922.28,280.59 L1925.90,280.45 L1929.52,280.31 L1933.13,280.17 L1936.75,280.04 L1940.37,279.90 L1943.98,279.77 L1947.60,279.64 L1951.22,279.51 L1954.83,279.37 L1958.45,279.24 L1962.07,279.11 L1965.68,278.98 L1969.30,278.85 L1972.92,278.73 L1976.53,278.60 L1980.15,278.47 L1983.77,278.35 L1987.38,278.22 L1991.00,278.10 L1994.62,277.97 L1998.23,277.85 L2001.85,277.73 L2005.47,277.60 L2009.08,277.48 L2012.70,277.36 L2016.32,277.24 L2019.93,277.12 L2023.55,277.00 L2027.17,276.89 L2030.78,276.77 L2034.40,276.65 L2038.02,276.54 L2041.63,276.42 L2045.25,276.31 L2048.87,276.19 L2052.48,276.08 L2056.10,275.97 L2059.72,275.85 L2063.33,275.74 L2066.95,275.63 L2070.57,275.52 L2074.18,275.41 L2077.80,275.30 L2081.42,275.19 L2085.03,275.09 L2088.65,274.98 L2092.27,274.87 L2095.88,274.77 L2099.50,274.66 L2103.12,274.56 L2106.73,274.45 L2110.35,274.35 L2113.97,274.24 L2117.58,274.14 L2121.20,274.04 L2124.82,273.94 L2128.43,273.84 L2132.05,273.74 L2135.67,273.64 L2139.28,273.54 L2142.90,273.44 L2146.52,273.34 L2150.13,273.24 L2153.75,273.14 L2157.37,273.05 L2160.98,272.95 L2164.60,272.86 L2168.22,272.76 L2171.83,272.67 L2175.45,272.57 L2179.07,272.48 L2182.68,272.39 L2186.30,272.29 L2189.92,272.20 L2193.53,272.11 L2197.15,272.02 L2200.77,271.93 L2204.38,271.84 L2208.00,271.75 L2211.62,271.66 L2215.23,271.57 L2218.85,271.48 L2222.47,271.40 L2226.08,271.31 L2229.70,271.22 L2233.32,271.14 L2236.93,271.05 L2240.55,270.97 L2244.17,270.88 L2247.78,270.80 L2251.40,270.71 L2255.02,270.63 L2258.63,270.55 L2262.25,270.47 L2265.87,270.38 L2269.48,270.30 L2273.10,270.22 L2276.72,270.14 L2280.33,270.06 L2283.95,269.98 L2287.57,269.90 L2291.18,269.82 L2294.80,269.75 L2298.42,269.67 L2302.03,269.59 L2305.65,269.51 L2309.27,269.44 L2312.88,269.36 L2316.50,269.28 L2320.12,269.21 L2323.73,269.13 L2327.35,269.06 L2330.97,268.99 L2334.58,268.91 L2338.20,268.84 L2341.82,268.77 L2345.43,268.69 L2349.05,268.62 L2352.67,268.55 L2356.28,268.48 L2359.90,268.41 L2363.52,268.34 L2367.13,268.27 L2370.75,268.20 L2374.37,268.13 L2377.98,268.06 L2381.60,267.99 L2385.22,267.92 L2388.83,267.85 L2392.45,267.79 L2396.07,267.72 L2399.68,267.65 L2403.30,267.59 L2406.92,267.52 L2410.53,267.45 L2414.15,267.39 L2417.77,267.32 L2421.38,267.26 L2425.00,267.20" fill="none" stroke="#0000ff" stroke-width="10.2" stroke-linecap="round" stroke-dasharray="25.6 20.7 0.4 21.3" stroke-dashoffset="-0.4" clip-path="url(#cpt)"/>
<g clip-path="url(#cpb)">
<polygon points="689.05,1223.35 722.95,1223.35 706.00,1253.50" fill="#ffff80" stroke="#800000" stroke-width="7.1" stroke-linejoin="round"/>
<polygon points="827.35,974.75 861.25,974.75 844.30,1004.90" fill="#ffff80" stroke="#800000" stroke-width="7.1" stroke-linejoin="round"/>
<polygon points="827.35,1001.55 861.25,1001.55 844.30,1031.70" fill="#ffff80" stroke="#800000" stroke-width="7.1" stroke-linejoin="round"/>
<polygon points="961.75,1087.75 995.65,1087.75 978.70,1117.90" fill="#ffff80" stroke="#800000" stroke-width="7.1" stroke-linejoin="round"/>
<polygon points="1001.55,1074.65 1035.45,1074.65 1018.50,1104.80" fill="#ffff80" stroke="#800000" stroke-width="7.1" stroke-linejoin="round"/>
<polygon points="1001.55,1138.65 1035.45,1138.65 1018.50,1168.80" fill="#ffff80" stroke="#800000" stroke-width="7.1" stroke-linejoin="round"/>
<polygon points="1160.55,1151.85 1194.45,1151.85 1177.50,1182.00" fill="#ffff80" stroke="#800000" stroke-width="7.1" stroke-linejoin="round"/>
<polygon points="1144.15,1195.05 1178.05,1195.05 1161.10,1225.20" fill="#ffff80" stroke="#800000" stroke-width="7.1" stroke-linejoin="round"/>
<polygon points="1268.25,1156.75 1302.15,1156.75 1285.20,1186.90" fill="#ffff80" stroke="#800000" stroke-width="7.1" stroke-linejoin="round"/>
<polygon points="1405.45,1136.55 1439.35,1136.55 1422.40,1166.70" fill="#ffff80" stroke="#800000" stroke-width="7.1" stroke-linejoin="round"/>
<polygon points="1541.55,1164.95 1575.45,1164.95 1558.50,1195.10" fill="#ffff80" stroke="#800000" stroke-width="7.1" stroke-linejoin="round"/>
<line x1="876.00" y1="1094.50" x2="876.00" y2="1139.90" stroke="#800080" stroke-width="7.6" stroke-linecap="round"/>
<polygon points="853.80,1117.20 887.20,1098.20 887.20,1136.20" fill="#800080" stroke="#800080" stroke-width="7" stroke-linejoin="round"/>
<polygon points="860.40,1117.20 873.10,1109.60 873.10,1124.80" fill="#ffb0d8"/>
<line x1="903.70" y1="1091.20" x2="903.70" y2="1136.60" stroke="#800080" stroke-width="7.6" stroke-linecap="round"/>
<polygon points="881.50,1113.90 914.90,1094.90 914.90,1132.90" fill="#800080" stroke="#800080" stroke-width="7" stroke-linejoin="round"/>
<polygon points="888.10,1113.90 900.80,1106.30 900.80,1121.50" fill="#ffb0d8"/>
<line x1="929.50" y1="1087.50" x2="929.50" y2="1132.90" stroke="#800080" stroke-width="7.6" stroke-linecap="round"/>
<polygon points="907.30,1110.20 940.70,1091.20 940.70,1129.20" fill="#800080" stroke="#800080" stroke-width="7" stroke-linejoin="round"/>
<polygon points="913.90,1110.20 926.60,1102.60 926.60,1117.80" fill="#ffb0d8"/>
<line x1="954.40" y1="1084.50" x2="954.40" y2="1129.90" stroke="#800080" stroke-width="7.6" stroke-linecap="round"/>
<polygon points="932.20,1107.20 965.60,1088.20 965.60,1126.20" fill="#800080" stroke="#800080" stroke-width="7" stroke-linejoin="round"/>
<polygon points="938.80,1107.20 951.50,1099.60 951.50,1114.80" fill="#ffb0d8"/>
<line x1="979.00" y1="1083.60" x2="979.00" y2="1129.00" stroke="#800080" stroke-width="7.6" stroke-linecap="round"/>
<polygon points="956.80,1106.30 990.20,1087.30 990.20,1125.30" fill="#800080" stroke="#800080" stroke-width="7" stroke-linejoin="round"/>
<polygon points="963.40,1106.30 976.10,1098.70 976.10,1113.90" fill="#ffb0d8"/>
<line x1="1002.40" y1="1082.30" x2="1002.40" y2="1127.70" stroke="#800080" stroke-width="7.6" stroke-linecap="round"/>
<polygon points="980.20,1105.00 1013.60,1086.00 1013.60,1124.00" fill="#800080" stroke="#800080" stroke-width="7" stroke-linejoin="round"/>
<polygon points="986.80,1105.00 999.50,1097.40 999.50,1112.60" fill="#ffb0d8"/>
<line x1="1026.20" y1="1081.60" x2="1026.20" y2="1127.00" stroke="#800080" stroke-width="7.6" stroke-linecap="round"/>
<polygon points="1004.00,1104.30 1037.40,1085.30 1037.40,1123.30" fill="#800080" stroke="#800080" stroke-width="7" stroke-linejoin="round"/>
<polygon points="1010.60,1104.30 1023.30,1096.70 1023.30,1111.90" fill="#ffb0d8"/>
<line x1="1048.40" y1="1081.10" x2="1048.40" y2="1126.50" stroke="#800080" stroke-width="7.6" stroke-linecap="round"/>
<polygon points="1026.20,1103.80 1059.60,1084.80 1059.60,1122.80" fill="#800080" stroke="#800080" stroke-width="7" stroke-linejoin="round"/>
<polygon points="1032.80,1103.80 1045.50,1096.20 1045.50,1111.40" fill="#ffb0d8"/>
<line x1="1070.30" y1="1080.60" x2="1070.30" y2="1126.00" stroke="#800080" stroke-width="7.6" stroke-linecap="round"/>
<polygon points="1048.10,1103.30 1081.50,1084.30 1081.50,1122.30" fill="#800080" stroke="#800080" stroke-width="7" stroke-linejoin="round"/>
<polygon points="1054.70,1103.30 1067.40,1095.70 1067.40,1110.90" fill="#ffb0d8"/>
<line x1="1091.40" y1="1080.30" x2="1091.40" y2="1125.70" stroke="#800080" stroke-width="7.6" stroke-linecap="round"/>
<polygon points="1069.20,1103.00 1102.60,1084.00 1102.60,1122.00" fill="#800080" stroke="#800080" stroke-width="7" stroke-linejoin="round"/>
<polygon points="1075.80,1103.00 1088.50,1095.40 1088.50,1110.60" fill="#ffb0d8"/>
<line x1="1112.20" y1="1079.90" x2="1112.20" y2="1125.30" stroke="#800080" stroke-width="7.6" stroke-linecap="round"/>
<polygon points="1090.00,1102.60 1123.40,1083.60 1123.40,1121.60" fill="#800080" stroke="#800080" stroke-width="7" stroke-linejoin="round"/>
<polygon points="1096.60,1102.60 1109.30,1095.00 1109.30,1110.20" fill="#ffb0d8"/>
<line x1="1132.20" y1="1079.90" x2="1132.20" y2="1125.30" stroke="#800080" stroke-width="7.6" stroke-linecap="round"/>
<polygon points="1110.00,1102.60 1143.40,1083.60 1143.40,1121.60" fill="#800080" stroke="#800080" stroke-width="7" stroke-linejoin="round"/>
<polygon points="1116.60,1102.60 1129.30,1095.00 1129.30,1110.20" fill="#ffb0d8"/>
<line x1="1152.30" y1="1081.80" x2="1152.30" y2="1127.20" stroke="#800080" stroke-width="7.6" stroke-linecap="round"/>
<polygon points="1130.10,1104.50 1163.50,1085.50 1163.50,1123.50" fill="#800080" stroke="#800080" stroke-width="7" stroke-linejoin="round"/>
<polygon points="1136.70,1104.50 1149.40,1096.90 1149.40,1112.10" fill="#ffb0d8"/>
<line x1="1171.90" y1="1087.80" x2="1171.90" y2="1133.20" stroke="#800080" stroke-width="7.6" stroke-linecap="round"/>
<polygon points="1149.70,1110.50 1183.10,1091.50 1183.10,1129.50" fill="#800080" stroke="#800080" stroke-width="7" stroke-linejoin="round"/>
<polygon points="1156.30,1110.50 1169.00,1102.90 1169.00,1118.10" fill="#ffb0d8"/>
<line x1="1179.30" y1="1091.70" x2="1179.30" y2="1137.10" stroke="#800080" stroke-width="7.6" stroke-linecap="round"/>
<polygon points="1157.10,1114.40 1190.50,1095.40 1190.50,1133.40" fill="#800080" stroke="#800080" stroke-width="7" stroke-linejoin="round"/>
<polygon points="1163.70,1114.40 1176.40,1106.80 1176.40,1122.00" fill="#ffb0d8"/>
<line x1="706.00" y1="1187.65" x2="706.00" y2="1223.00" stroke="#800000" stroke-width="7.7" stroke-linecap="round"/>
<line x1="706.00" y1="1253.40" x2="706.00" y2="1281.25" stroke="#800000" stroke-width="7.7" stroke-linecap="round"/>
<line x1="844.30" y1="922.65" x2="844.30" y2="974.40" stroke="#800000" stroke-width="7.7" stroke-linecap="round"/>
<line x1="844.30" y1="1004.80" x2="844.30" y2="1046.95" stroke="#800000" stroke-width="7.7" stroke-linecap="round"/>
<line x1="844.30" y1="952.05" x2="844.30" y2="1001.20" stroke="#800000" stroke-width="7.7" stroke-linecap="round"/>
<line x1="844.30" y1="1031.60" x2="844.30" y2="1071.15" stroke="#800000" stroke-width="7.7" stroke-linecap="round"/>
<line x1="978.70" y1="1043.15" x2="978.70" y2="1087.40" stroke="#800000" stroke-width="7.7" stroke-linecap="round"/>
<line x1="978.70" y1="1117.80" x2="978.70" y2="1151.65" stroke="#800000" stroke-width="7.7" stroke-linecap="round"/>
<line x1="1018.50" y1="1030.05" x2="1018.50" y2="1074.30" stroke="#800000" stroke-width="7.7" stroke-linecap="round"/>
<line x1="1018.50" y1="1104.70" x2="1018.50" y2="1139.35" stroke="#800000" stroke-width="7.7" stroke-linecap="round"/>
<line x1="1018.50" y1="1096.85" x2="1018.50" y2="1138.30" stroke="#800000" stroke-width="7.7" stroke-linecap="round"/>
<line x1="1018.50" y1="1168.70" x2="1018.50" y2="1199.65" stroke="#800000" stroke-width="7.7" stroke-linecap="round"/>
<line x1="1177.50" y1="1110.05" x2="1177.50" y2="1151.50" stroke="#800000" stroke-width="7.7" stroke-linecap="round"/>
<line x1="1177.50" y1="1181.90" x2="1177.50" y2="1211.65" stroke="#800000" stroke-width="7.7" stroke-linecap="round"/>
<line x1="1161.10" y1="1155.85" x2="1161.10" y2="1194.70" stroke="#800000" stroke-width="7.7" stroke-linecap="round"/>
<line x1="1161.10" y1="1225.10" x2="1161.10" y2="1251.85" stroke="#800000" stroke-width="7.7" stroke-linecap="round"/>
<line x1="1285.20" y1="1115.25" x2="1285.20" y2="1156.40" stroke="#800000" stroke-width="7.7" stroke-linecap="round"/>
<line x1="1285.20" y1="1186.80" x2="1285.20" y2="1216.35" stroke="#800000" stroke-width="7.7" stroke-linecap="round"/>
<line x1="1422.40" y1="1094.85" x2="1422.40" y2="1136.20" stroke="#800000" stroke-width="7.7" stroke-linecap="round"/>
<line x1="1422.40" y1="1166.60" x2="1422.40" y2="1197.95" stroke="#800000" stroke-width="7.7" stroke-linecap="round"/>
<line x1="1558.50" y1="1125.25" x2="1558.50" y2="1164.60" stroke="#800000" stroke-width="7.7" stroke-linecap="round"/>
<line x1="1558.50" y1="1195.00" x2="1558.50" y2="1224.95" stroke="#800000" stroke-width="7.7" stroke-linecap="round"/>
<polygon points="935.55,1118.55 969.45,1118.55 952.50,1148.70" fill="#800000" stroke="#800000" stroke-width="7.1" stroke-linejoin="round"/>
<polygon points="939.90,1121.60 950.00,1121.60 950.00,1138.50" fill="#ffdab9"/>
<polygon points="1091.85,1181.85 1125.75,1181.85 1108.80,1212.00" fill="#800000" stroke="#800000" stroke-width="7.1" stroke-linejoin="round"/>
<polygon points="1096.20,1184.90 1106.30,1184.90 1106.30,1201.80" fill="#ffdab9"/>
<polygon points="1247.45,1155.05 1281.35,1155.05 1264.40,1185.20" fill="#800000" stroke="#800000" stroke-width="7.1" stroke-linejoin="round"/>
<polygon points="1251.80,1158.10 1261.90,1158.10 1261.90,1175.00" fill="#ffdab9"/>
<polygon points="1380.45,1113.35 1414.35,1113.35 1397.40,1143.50" fill="#800000" stroke="#800000" stroke-width="7.1" stroke-linejoin="round"/>
<polygon points="1384.80,1116.40 1394.90,1116.40 1394.90,1133.30" fill="#ffdab9"/>
<polygon points="1511.05,1124.75 1544.95,1124.75 1528.00,1154.90" fill="#800000" stroke="#800000" stroke-width="7.1" stroke-linejoin="round"/>
<polygon points="1515.40,1127.80 1525.50,1127.80 1525.50,1144.70" fill="#ffdab9"/>
<line x1="952.50" y1="1075.85" x2="952.50" y2="1118.20" stroke="#800000" stroke-width="7.7" stroke-linecap="round"/>
<line x1="952.50" y1="1148.60" x2="952.50" y2="1181.75" stroke="#800000" stroke-width="7.7" stroke-linecap="round"/>
<line x1="1108.80" y1="1141.95" x2="1108.80" y2="1181.50" stroke="#800000" stroke-width="7.7" stroke-linecap="round"/>
<line x1="1108.80" y1="1211.90" x2="1108.80" y2="1239.65" stroke="#800000" stroke-width="7.7" stroke-linecap="round"/>
<line x1="1264.40" y1="1113.05" x2="1264.40" y2="1154.70" stroke="#800000" stroke-width="7.7" stroke-linecap="round"/>
<line x1="1264.40" y1="1185.10" x2="1264.40" y2="1213.95" stroke="#800000" stroke-width="7.7" stroke-linecap="round"/>
<line x1="1397.40" y1="1070.05" x2="1397.40" y2="1113.00" stroke="#800000" stroke-width="7.7" stroke-linecap="round"/>
<line x1="1397.40" y1="1143.40" x2="1397.40" y2="1176.05" stroke="#800000" stroke-width="7.7" stroke-linecap="round"/>
<line x1="1528.00" y1="1081.85" x2="1528.00" y2="1124.40" stroke="#800000" stroke-width="7.7" stroke-linecap="round"/>
<line x1="1528.00" y1="1154.80" x2="1528.00" y2="1187.05" stroke="#800000" stroke-width="7.7" stroke-linecap="round"/>
<line x1="341.20" y1="1319.20" x2="341.20" y2="1384.30" stroke="#800080" stroke-width="7.6" stroke-linecap="round"/>
<polygon points="317.50,1351.90 353.70,1331.50 353.70,1372.30" fill="#800080"/>
<line x1="372.50" y1="1219.90" x2="372.50" y2="1295.00" stroke="#800080" stroke-width="7.6" stroke-linecap="round"/>
<polygon points="348.80,1257.30 385.00,1236.90 385.00,1277.70" fill="#800080"/>
<line x1="398.50" y1="1203.90" x2="398.50" y2="1280.80" stroke="#800080" stroke-width="7.6" stroke-linecap="round"/>
<polygon points="374.80,1242.40 411.00,1222.00 411.00,1262.80" fill="#800080"/>
<line x1="443.10" y1="1109.90" x2="443.10" y2="1195.10" stroke="#800080" stroke-width="7.6" stroke-linecap="round"/>
<polygon points="419.40,1152.40 455.60,1132.00 455.60,1172.80" fill="#800080"/>
<line x1="471.00" y1="1149.00" x2="471.00" y2="1230.10" stroke="#800080" stroke-width="7.6" stroke-linecap="round"/>
<polygon points="447.30,1189.30 483.50,1168.90 483.50,1209.70" fill="#800080"/>
<line x1="426.50" y1="1322.50" x2="426.50" y2="1400.80" stroke="#a30059" stroke-width="7.0" stroke-linecap="round"/>
<polygon points="409.50,1371.90 443.50,1371.90 426.50,1342.50" fill="#ffc0c0" stroke="#a30059" stroke-width="7" stroke-linejoin="round"/>
<line x1="426.50" y1="1409.40" x2="426.50" y2="1478.40" stroke="#a30059" stroke-width="7.0" stroke-linecap="round"/>
<polygon points="409.50,1453.20 443.50,1453.20 426.50,1423.80" fill="#ffc0c0" stroke="#a30059" stroke-width="7" stroke-linejoin="round"/>
<line x1="1522.80" y1="1127.10" x2="1522.80" y2="1211.40" stroke="#9b3bff" stroke-width="7.4" stroke-linecap="round"/>
<polygon points="1502.30,1157.20 1543.30,1157.20 1522.80,1193.20" fill="#9b3bff"/>
<line x1="1712.90" y1="1105.90" x2="1712.90" y2="1191.40" stroke="#9b3bff" stroke-width="7.4" stroke-linecap="round"/>
<polygon points="1692.40,1136.30 1733.40,1136.30 1712.90,1172.30" fill="#9b3bff"/>
<line x1="1900.90" y1="1112.70" x2="1900.90" y2="1198.20" stroke="#9b3bff" stroke-width="7.4" stroke-linecap="round"/>
<polygon points="1880.40,1143.10 1921.40,1143.10 1900.90,1179.10" fill="#9b3bff"/>
<line x1="2000.50" y1="1094.70" x2="2000.50" y2="1181.30" stroke="#9b3bff" stroke-width="7.4" stroke-linecap="round"/>
<polygon points="1980.00,1126.10 2021.00,1126.10 2000.50,1162.10" fill="#9b3bff"/>
<line x1="2070.00" y1="1110.70" x2="2070.00" y2="1196.40" stroke="#9b3bff" stroke-width="7.4" stroke-linecap="round"/>
<polygon points="2049.50,1141.20 2090.50,1141.20 2070.00,1177.20" fill="#9b3bff"/>
<line x1="2224.50" y1="1118.40" x2="2224.50" y2="1203.40" stroke="#9b3bff" stroke-width="7.4" stroke-linecap="round"/>
<polygon points="2204.00,1149.10 2245.00,1149.10 2224.50,1185.10" fill="#9b3bff"/>
<line x1="2368.60" y1="1094.70" x2="2368.60" y2="1181.00" stroke="#9b3bff" stroke-width="7.4" stroke-linecap="round"/>
<polygon points="2348.10,1126.10 2389.10,1126.10 2368.60,1162.10" fill="#9b3bff"/>
</g>
<path d="M280.00,1603.73 L283.57,1583.02 L287.15,1563.20 L290.73,1544.22 L294.30,1526.04 L297.88,1508.64 L301.45,1491.98 L305.02,1476.03 L308.60,1460.76 L312.18,1446.13 L315.75,1432.13 L319.32,1418.73 L322.90,1405.89 L326.48,1393.60 L330.05,1381.83 L333.62,1370.57 L337.20,1359.78 L340.77,1349.45 L344.35,1339.57 L347.93,1330.10 L351.50,1321.03 L355.07,1312.35 L358.65,1304.04 L362.23,1296.09 L365.80,1288.47 L369.38,1281.17 L372.95,1274.19 L376.52,1267.50 L380.10,1261.10 L383.68,1254.97 L387.25,1249.10 L390.82,1243.48 L394.40,1238.10 L397.98,1232.95 L401.55,1228.02 L405.12,1223.30 L408.70,1218.78 L412.27,1214.45 L415.85,1210.30 L419.43,1206.33 L423.00,1202.53 L426.57,1198.89 L430.15,1195.41 L433.73,1192.08 L437.30,1188.88 L440.88,1185.83 L444.45,1182.90 L448.02,1180.09 L451.60,1177.41 L455.18,1174.84 L458.75,1172.38 L462.32,1170.03 L465.90,1167.77 L469.48,1165.61 L473.05,1163.54 L476.62,1161.56 L480.20,1159.67 L483.77,1157.85 L487.35,1156.12 L490.93,1154.45 L494.50,1152.86 L498.07,1151.34 L501.65,1149.88 L505.23,1148.48 L508.80,1147.14 L512.38,1145.86 L515.95,1144.63 L519.52,1143.45 L523.10,1142.33 L526.67,1141.25 L530.25,1140.22 L533.83,1139.23 L537.40,1138.29 L540.98,1137.38 L544.55,1136.52 L548.12,1135.69 L551.70,1134.89 L555.27,1134.13 L558.85,1133.40 L562.42,1132.71 L566.00,1132.04 L569.58,1131.40 L573.15,1130.79 L576.73,1130.20 L580.30,1129.64 L583.88,1129.10 L587.45,1128.59 L591.02,1128.10 L594.60,1127.62 L598.17,1127.17 L601.75,1126.74 L605.33,1126.33 L608.90,1125.93 L612.48,1125.55 L616.05,1125.19 L619.62,1124.84 L623.20,1124.51 L626.77,1124.19 L630.35,1123.88 L633.92,1123.59 L637.50,1123.31 L641.08,1123.04 L644.65,1122.79 L648.23,1122.54 L651.80,1122.31 L655.38,1122.08 L658.95,1121.86 L662.52,1121.66 L666.10,1121.46 L669.67,1121.27 L673.25,1121.09 L676.83,1120.92 L680.40,1120.75 L683.98,1120.59 L687.55,1120.44 L691.12,1120.29 L694.70,1120.15 L698.27,1120.02 L701.85,1119.89 L705.42,1119.77 L709.00,1119.65 L712.58,1119.54 L716.15,1119.43 L719.73,1119.33 L723.30,1119.23 L726.88,1119.14 L730.45,1119.05 L734.02,1118.96 L737.60,1118.88 L741.17,1118.80 L744.75,1118.72 L748.33,1118.65 L751.90,1118.58 L755.48,1118.51 L759.05,1118.45 L762.62,1118.39 L766.20,1118.33 L769.77,1118.27 L773.35,1118.22 L776.92,1118.17 L780.50,1118.12 L784.08,1118.07 L787.65,1118.03 L791.23,1117.98 L794.80,1117.94 L798.38,1117.90 L801.95,1117.86 L805.52,1117.83 L809.10,1117.79 L812.67,1117.76 L816.25,1117.73 L819.83,1117.70 L823.40,1117.67 L826.98,1117.64 L830.55,1117.61 L834.12,1117.59 L837.70,1117.56 L841.27,1117.54 L844.85,1117.52 L848.42,1117.50 L852.00,1117.48 L855.58,1117.46 L859.15,1117.44 L862.73,1117.42 L866.30,1117.40 L869.88,1117.39 L873.45,1117.37 L877.02,1117.35 L880.60,1117.34 L884.17,1117.33 L887.75,1117.31 L891.33,1117.30 L894.90,1117.29 L898.48,1117.28 L902.05,1117.26 L905.62,1117.25 L909.20,1117.24 L912.77,1117.23 L916.35,1117.22 L919.92,1117.21 L923.50,1117.21 L927.08,1117.20 L930.65,1117.19 L934.23,1117.18 L937.80,1117.18 L941.38,1117.17 L944.95,1117.16 L948.52,1117.16 L952.10,1117.15 L955.67,1117.14 L959.25,1117.14 L962.83,1117.13 L966.40,1117.13 L969.98,1117.12 L973.55,1117.12 L977.12,1117.11 L980.70,1117.11 L984.27,1117.10 L987.85,1117.10 L991.42,1117.10 L995.00,1117.09 L998.58,1117.09 L1002.15,1117.09 L1005.73,1117.08 L1009.30,1117.08 L1012.88,1117.08 L1016.45,1117.07 L1020.02,1117.07 L1023.60,1117.07 L1027.17,1117.07 L1030.75,1117.06 L1034.33,1117.06 L1037.90,1117.06 L1041.47,1117.06 L1045.05,1117.06 L1048.62,1117.05 L1052.20,1117.05 L1055.78,1117.05 L1059.35,1117.05 L1062.92,1117.05 L1066.50,1117.05 L1070.08,1117.04 L1073.65,1117.04 L1077.22,1117.04 L1080.80,1117.04 L1084.38,1117.04 L1087.95,1117.04 L1091.53,1117.04 L1095.10,1117.04 L1098.67,1117.03 L1102.25,1117.03 L1105.83,1117.03 L1109.40,1117.03 L1112.97,1117.03 L1116.55,1117.03 L1120.12,1117.03 L1123.70,1117.03 L1127.28,1117.03 L1130.85,1117.03 L1134.42,1117.03 L1138.00,1117.03 L1141.58,1117.03 L1145.15,1117.02 L1148.72,1117.02 L1152.30,1117.02 L1155.88,1117.02 L1159.45,1117.02 L1163.03,1117.02 L1166.60,1117.02 L1170.17,1117.02 L1173.75,1117.02 L1177.33,1117.02 L1180.90,1117.02 L1184.47,1117.02 L1188.05,1117.02 L1191.62,1117.02 L1195.20,1117.02 L1198.78,1117.02 L1202.35,1117.02 L1205.92,1117.02 L1209.50,1117.02 L1213.08,1117.02 L1216.65,1117.02 L1220.22,1117.02 L1223.80,1117.02 L1227.38,1117.02 L1230.95,1117.02 L1234.53,1117.02 L1238.10,1117.02 L1241.67,1117.02 L1245.25,1117.02 L1248.83,1117.02 L1252.40,1117.02 L1255.97,1117.02 L1259.55,1117.02 L1263.12,1117.01 L1266.70,1117.01 L1270.28,1117.01 L1273.85,1117.01 L1277.42,1117.01 L1281.00,1117.01 L1284.58,1117.01 L1288.15,1117.01 L1291.72,1117.01 L1295.30,1117.01 L1298.88,1117.01 L1302.45,1117.01 L1306.03,1117.01 L1309.60,1117.01 L1313.17,1117.01 L1316.75,1117.01 L1320.33,1117.01 L1323.90,1117.01 L1327.47,1117.01 L1331.05,1117.01 L1334.62,1117.01 L1338.20,1117.01 L1341.78,1117.01 L1345.35,1117.01 L1348.92,1117.01 L1352.50,1117.01 L1356.08,1117.01 L1359.65,1117.01 L1363.22,1117.01 L1366.80,1117.01 L1370.38,1117.01 L1373.95,1117.01 L1377.53,1117.01 L1381.10,1117.01 L1384.67,1117.01 L1388.25,1117.01 L1391.83,1117.01 L1395.40,1117.01 L1398.97,1117.01 L1402.55,1117.01 L1406.12,1117.01 L1409.70,1117.01 L1413.28,1117.01 L1416.85,1117.01 L1420.42,1117.01 L1424.00,1117.01 L1427.58,1117.01 L1431.15,1117.01 L1434.72,1117.01 L1438.30,1117.01 L1441.88,1117.01 L1445.45,1117.01 L1449.03,1117.01 L1452.60,1117.01 L1456.17,1117.01 L1459.75,1117.01 L1463.33,1117.01 L1466.90,1117.01 L1470.47,1117.01 L1474.05,1117.01 L1477.62,1117.01 L1481.20,1117.01 L1484.78,1117.01 L1488.35,1117.01 L1491.92,1117.01 L1495.50,1117.01 L1499.08,1117.01 L1502.65,1117.01 L1506.22,1117.01 L1509.80,1117.01 L1513.38,1117.01 L1516.95,1117.01 L1520.53,1117.01 L1524.10,1117.01 L1527.67,1117.01 L1531.25,1117.01 L1534.83,1117.01 L1538.40,1117.01 L1541.97,1117.01 L1545.55,1117.01 L1549.12,1117.01 L1552.70,1117.01 L1556.28,1117.01 L1559.85,1117.01 L1563.42,1117.01 L1567.00,1117.01 L1570.58,1117.01 L1574.15,1117.01 L1577.72,1117.01 L1581.30,1117.01 L1584.88,1117.01 L1588.45,1117.01 L1592.03,1117.01 L1595.60,1117.01 L1599.17,1117.01 L1602.75,1117.01 L1606.33,1117.01 L1609.90,1117.01 L1613.47,1117.01 L1617.05,1117.01 L1620.62,1117.01 L1624.20,1117.01 L1627.78,1117.01 L1631.35,1117.01 L1634.92,1117.01 L1638.50,1117.01 L1642.08,1117.01 L1645.65,1117.01 L1649.22,1117.01 L1652.80,1117.01 L1656.38,1117.01 L1659.95,1117.01 L1663.53,1117.01 L1667.10,1117.01 L1670.67,1117.01 L1674.25,1117.01 L1677.83,1117.01 L1681.40,1117.01 L1684.97,1117.01 L1688.55,1117.01 L1692.12,1117.01 L1695.70,1117.01 L1699.28,1117.01 L1702.85,1117.01 L1706.42,1117.01 L1710.00,1117.01 L1713.58,1117.01 L1717.15,1117.01 L1720.72,1117.01 L1724.30,1117.01 L1727.88,1117.01 L1731.45,1117.01 L1735.03,1117.01 L1738.60,1117.01 L1742.17,1117.01 L1745.75,1117.01 L1749.33,1117.01 L1752.90,1117.01 L1756.47,1117.01 L1760.05,1117.01 L1763.62,1117.01 L1767.20,1117.01 L1770.78,1117.01 L1774.35,1117.01 L1777.92,1117.01 L1781.50,1117.01 L1785.08,1117.01 L1788.65,1117.01 L1792.22,1117.01 L1795.80,1117.01 L1799.38,1117.01 L1802.95,1117.01 L1806.53,1117.01 L1810.10,1117.01 L1813.67,1117.01 L1817.25,1117.01 L1820.83,1117.01 L1824.40,1117.01 L1827.97,1117.01 L1831.55,1117.01 L1835.12,1117.01 L1838.70,1117.01 L1842.28,1117.01 L1845.85,1117.01 L1849.42,1117.01 L1853.00,1117.01 L1856.58,1117.01 L1860.15,1117.01 L1863.72,1117.01 L1867.30,1117.01 L1870.88,1117.01 L1874.45,1117.01 L1878.03,1117.01 L1881.60,1117.01 L1885.17,1117.01 L1888.75,1117.01 L1892.33,1117.01 L1895.90,1117.01 L1899.47,1117.01 L1903.05,1117.01 L1906.62,1117.01 L1910.20,1117.01 L1913.78,1117.01 L1917.35,1117.01 L1920.92,1117.01 L1924.50,1117.01 L1928.08,1117.01 L1931.65,1117.01 L1935.22,1117.01 L1938.80,1117.01 L1942.38,1117.01 L1945.95,1117.01 L1949.53,1117.01 L1953.10,1117.01 L1956.67,1117.01 L1960.25,1117.01 L1963.83,1117.01 L1967.40,1117.01 L1970.97,1117.01 L1974.55,1117.01 L1978.12,1117.01 L1981.70,1117.01 L1985.28,1117.01 L1988.85,1117.01 L1992.42,1117.01 L1996.00,1117.01 L1999.58,1117.01 L2003.15,1117.01 L2006.72,1117.01 L2010.30,1117.01 L2013.88,1117.01 L2017.45,1117.01 L2021.03,1117.01 L2024.60,1117.01 L2028.17,1117.01 L2031.75,1117.01 L2035.33,1117.01 L2038.90,1117.01 L2042.47,1117.01 L2046.05,1117.01 L2049.62,1117.01 L2053.20,1117.01 L2056.78,1117.01 L2060.35,1117.01 L2063.93,1117.01 L2067.50,1117.01 L2071.07,1117.01 L2074.65,1117.01 L2078.22,1117.01 L2081.80,1117.01 L2085.38,1117.01 L2088.95,1117.01 L2092.53,1117.01 L2096.10,1117.01 L2099.68,1117.01 L2103.25,1117.01 L2106.82,1117.01 L2110.40,1117.01 L2113.97,1117.01 L2117.55,1117.01 L2121.12,1117.01 L2124.70,1117.01 L2128.28,1117.01 L2131.85,1117.01 L2135.43,1117.01 L2139.00,1117.01 L2142.57,1117.01 L2146.15,1117.01 L2149.72,1117.01 L2153.30,1117.01 L2156.88,1117.01 L2160.45,1117.01 L2164.03,1117.01 L2167.60,1117.01 L2171.18,1117.01 L2174.75,1117.01 L2178.32,1117.01 L2181.90,1117.01 L2185.47,1117.01 L2189.05,1117.01 L2192.62,1117.01 L2196.20,1117.01 L2199.78,1117.01 L2203.35,1117.01 L2206.93,1117.01 L2210.50,1117.01 L2214.07,1117.01 L2217.65,1117.01 L2221.22,1117.01 L2224.80,1117.01 L2228.38,1117.01 L2231.95,1117.01 L2235.53,1117.01 L2239.10,1117.01 L2242.68,1117.01 L2246.25,1117.01 L2249.82,1117.01 L2253.40,1117.01 L2256.97,1117.01 L2260.55,1117.01 L2264.12,1117.01 L2267.70,1117.01 L2271.28,1117.01 L2274.85,1117.01 L2278.43,1117.01 L2282.00,1117.01 L2285.57,1117.01 L2289.15,1117.01 L2292.72,1117.01 L2296.30,1117.01 L2299.88,1117.01 L2303.45,1117.01 L2307.03,1117.01 L2310.60,1117.01 L2314.18,1117.01 L2317.75,1117.01 L2321.32,1117.01 L2324.90,1117.01 L2328.47,1117.01 L2332.05,1117.01 L2335.62,1117.01 L2339.20,1117.01 L2342.78,1117.01 L2346.35,1117.01 L2349.93,1117.01 L2353.50,1117.01 L2357.07,1117.01 L2360.65,1117.01 L2364.22,1117.01 L2367.80,1117.01 L2371.38,1117.01 L2374.95,1117.01 L2378.53,1117.01 L2382.10,1117.01 L2385.68,1117.01 L2389.25,1117.01 L2392.82,1117.01 L2396.40,1117.01 L2399.97,1117.01 L2403.55,1117.01 L2407.12,1117.01 L2410.70,1117.01 L2414.28,1117.01 L2417.85,1117.01 L2421.43,1117.01 L2425.00,1117.01" fill="none" stroke="#9900cc" stroke-width="10.2" stroke-linecap="round" stroke-dasharray="25.6 20.7 0.4 21.3" stroke-dashoffset="-35.5" clip-path="url(#cpb)"/>
<rect x="1752.00" y="590.00" width="32.00" height="31.20" fill="#0068ac" />
<rect x="1754.6" y="658.6" width="26.8" height="26.8" fill="#aaffff" stroke="#0068ac" stroke-width="5.2" stroke-linejoin="round"/>
<text transform="translate(1843.00,623.40) scale(1.0,1.022)" font-size="51.6" font-weight="bold" font-style="normal" text-anchor="start" fill="#000" >Hvelplund &amp; Fastrup</text>
<text transform="translate(1845.00,689.50) scale(1.0,1.022)" font-size="51.6" font-weight="bold" font-style="normal" text-anchor="start" fill="#000" >Zhang</text>
<polygon points="967.6,1357.3 1004,1336.8 1004,1377.8" fill="#800080"/>
<polygon points="974.40,1434.50 1008.40,1434.50 991.40,1404.90" fill="#ffc0c0" stroke="#a30059" stroke-width="7" stroke-linejoin="round"/>
<polygon points="970.6,1478 1012.2,1478 991.4,1513.9" fill="#9b3bff"/>
<text transform="translate(1066.50,1375.50) scale(1.004,1.03)" font-size="51.3" font-weight="bold" font-style="normal" text-anchor="start" fill="#000" >Hvelplund &amp; Fastrup</text>
<text transform="translate(1067.50,1442.40) scale(1.0,1.03)" font-size="51.3" font-weight="bold" font-style="normal" text-anchor="start" fill="#000" >Lennard</text>
<text transform="translate(1287.60,1442.40) scale(1.035,1.03)" font-size="51.3" font-weight="bold" font-style="italic" text-anchor="start" fill="#000" >et al.</text>
<text transform="translate(1067.40,1508.80) scale(1.0,1.03)" font-size="51.3" font-weight="bold" font-style="normal" text-anchor="start" fill="#000" >Abdesselam</text>
<text transform="translate(1388.60,1508.80) scale(1.03,1.03)" font-size="51.3" font-weight="bold" font-style="italic" text-anchor="start" fill="#000" >et al.</text>
<polygon points="1666.55,1343.55 1700.45,1343.55 1683.50,1373.70" fill="#ffff80" stroke="#800000" stroke-width="7.1" stroke-linejoin="round"/>
<polygon points="1666.55,1410.55 1700.45,1410.55 1683.50,1440.70" fill="#800000" stroke="#800000" stroke-width="7.1" stroke-linejoin="round"/>
<polygon points="1670.90,1413.60 1681.00,1413.60 1681.00,1430.50" fill="#ffdab9"/>
<polygon points="1661.30,1486.30 1694.70,1467.30 1694.70,1505.30" fill="#800080" stroke="#800080" stroke-width="7" stroke-linejoin="round"/>
<polygon points="1667.70,1486.30 1681.00,1478.80 1681.00,1493.80" fill="#ffb0d8"/>
<text transform="translate(1758.50,1371.90) scale(1.0,1.05)" font-size="51.8" font-weight="bold" font-style="normal" text-anchor="start" fill="#000" >Harikumar, Sharma</text>
<text transform="translate(2253.60,1371.90) scale(1.04,1.05)" font-size="51.8" font-weight="bold" font-style="italic" text-anchor="start" fill="#000" >et al</text>
<text transform="translate(2359.00,1371.90) scale(1.0,1.05)" font-size="51.8" font-weight="bold" font-style="normal" text-anchor="start" fill="#000" >.</text>
<text transform="translate(1759.50,1438.70) scale(1.0,1.05)" font-size="51.8" font-weight="bold" font-style="normal" text-anchor="start" fill="#000" >Shyam Kumar</text>
<text transform="translate(2125.60,1438.70) scale(1.04,1.05)" font-size="51.8" font-weight="bold" font-style="italic" text-anchor="start" fill="#000" >et al</text>
<text transform="translate(2231.00,1438.70) scale(1.0,1.05)" font-size="51.8" font-weight="bold" font-style="normal" text-anchor="start" fill="#000" >.</text>
<text transform="translate(1759.00,1505.20) scale(1.0,1.05)" font-size="51.8" font-weight="bold" font-style="normal" text-anchor="start" fill="#000" >Zhang</text>
</svg>
</body></html>
